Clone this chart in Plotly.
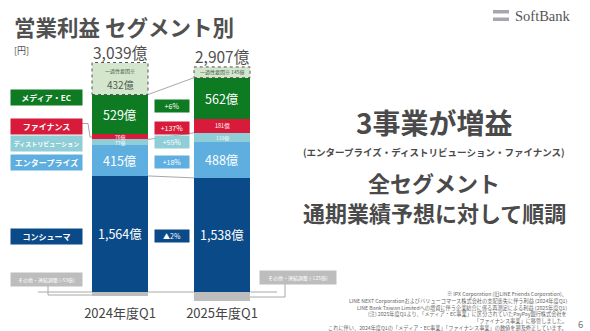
import plotly.graph_objects as go

# ---------------- data ----------------
categories = ["2024年度Q1", "2025年度Q1"]
consumer = [1564, 1538]
enterprise = [415, 488]
distribution = [77, 119]
finance = [76, 181]
media = [529, 562]
one_time = [432, 145]
other = [-53, -125]
totals = [3039, 2907]
segment_names = ["コンシューマ", "エンタープライズ", "ディストリビューション", "ファイナンス", "メディア・EC"]
growth = ["▲2%", "+18%", "+55%", "+137%", "+6%"]
other_labels = ["その他・連結調整 (-53億)", "その他・連結調整 (-125億)"]

# ---------------- style ----------------
FONT = "Noto Sans CJK JP"
C_CONS = "#0b4a88"
C_ENT = "#5eaee0"
C_DIST = "#8fcdd7"
C_FIN = "#d81b3b"
C_MED = "#0e7a22"
C_ONE = "#d4e6cd"
C_OTH = "#bdbdbd"
TXT = "#505050"
LINE = "#a8a8a8"

W, H = 590, 331
MB = 25
PH = H - MB
XC = [120, 222]
BW = 56
PXU = 0.0742            # pixels per 億
BASE_PX = 292
Y1 = BASE_PX / PXU
Y0 = -(PH - BASE_PX) / PXU


def py(p):
    return 1 - p / PH


fig = go.Figure()
stack = [(consumer, C_CONS), (enterprise, C_ENT), (distribution, C_DIST),
         (finance, C_FIN), (media, C_MED), (one_time, C_ONE)]
for vals, col in stack:
    fig.add_trace(go.Bar(x=XC, y=vals, width=BW, marker=dict(color=col, line=dict(width=0)),
                         hoverinfo="skip", showlegend=False))
fig.add_trace(go.Bar(x=XC, y=other, width=BW, marker=dict(color=C_OTH, line=dict(width=0)),
                     hoverinfo="skip", showlegend=False))

ann = []
shapes = []


def A(**kw):
    kw.setdefault("showarrow", False)
    kw.setdefault("yanchor", "middle")
    kw.setdefault("xanchor", "center")
    ann.append(kw)


# segment value labels
lab_sizes = [12.5, 12.5, 5, 5.5, 12.5]
for i in range(2):
    base = 0
    bounds = []
    for k, (vals, col) in enumerate(stack):
        v = vals[i]
        if k < 5:
            fs = lab_sizes[k]
            if k == 3 and i == 0:
                fs = 5
            A(x=XC[i], y=base + v / 2, xref="x", yref="y", text=f"{v:,}億",
              font=dict(family=FONT, size=fs, color="white"))
        bounds.append((base, base + v))
        base += v
    # one-time box dotted outline
    b0, b1 = bounds[5]
    shapes.append(dict(type="rect", xref="x", yref="y", x0=XC[i] - BW / 2, x1=XC[i] + BW / 2,
                       y0=b0, y1=b1, line=dict(color="#555555", width=1, dash="dot"),
                       fillcolor="rgba(0,0,0,0)", layer="above"))
    if i == 0:
        A(x=XC[i], y=b0 + (b1 - b0) * 0.72, xref="x", yref="y", text="一過性要因※",
          font=dict(family=FONT, size=5, color="#4d5d4d"))
        A(x=XC[i], y=b0 + (b1 - b0) * 0.32, xref="x", yref="y", text=f"{one_time[i]}億",
          font=dict(family=FONT, size=10, color="#4d5d4d"))
    else:
        A(x=XC[i], y=(b0 + b1) / 2, xref="x", yref="y", text=f"一過性要因※ {one_time[i]}億",
          borderpad=0, font=dict(family=FONT, size=5, color="#3d5a3d"))
    # totals
    A(x=XC[i], y=b1, xref="x", yref="y", text=f"{totals[i]:,}億", yanchor="bottom", yshift=-1.5,
      borderpad=0, font=dict(family=FONT, size=15.5, color=TXT))

# connector lines between bars
cum = lambda i, n: sum(s[0][i] for s in stack[:n])
for n in (1, 3, 5):
    shapes.append(dict(type="line", xref="x", yref="y", x0=XC[0] + BW / 2, x1=XC[1] - BW / 2,
                       y0=cum(0, n), y1=cum(1, n), line=dict(color=LINE, width=1)))
# baseline
shapes.append(dict(type="line", xref="x", yref="y", x0=38, x1=277, y0=0, y1=0,
                   line=dict(color=LINE, width=1), layer="below"))
# brackets for other
shapes.append(dict(type="path", xref="x", yref="paper",
                   path=f"M48,{py(286)} L48,{py(295)} L{XC[0] - BW / 2},{py(295)}",
                   line=dict(color=LINE, width=1)))
shapes.append(dict(type="path", xref="x", yref="paper",
                   path=f"M285,{py(284)} L285,{py(297)} L{XC[1] + BW / 2},{py(297)}",
                   line=dict(color=LINE, width=1)))
# finance legend connector
shapes.append(dict(type="path", xref="x", yref="paper",
                   path=f"M82,{py(123.5)} L88,{py(123.5)} L90,{py(137)} L{XC[0] - BW / 2},{py(137)}",
                   line=dict(color=LINE, width=1)))

# legend boxes (left)
leg = [  # (name index, color, y center px, font size)
    (4, C_MED, 98, 8),
    (3, C_FIN, 126, 8),
    (2, C_DIST, 143, 6),
    (1, C_ENT, 162, 8),
    (0, C_CONS, 236, 8),
]
for idx, col, yc, fs in leg:
    A(x=46.5, y=py(yc), xref="x", yref="paper", text=f"<b>{segment_names[idx]}</b>",
      width=71, height=15, bgcolor=col, borderpad=0,
      font=dict(family=FONT, size=fs, color="white"))
# growth boxes (middle)
grow = [(4, C_MED, 105.8), (3, C_FIN, 127.5), (2, C_DIST, 142.2), (1, C_ENT, 161.5), (0, C_CONS, 236.3)]
for idx, col, yc in grow:
    A(x=171.5, y=py(yc), xref="x", yref="paper", text=growth[idx],
      width=34, height=12, bgcolor=col, borderpad=0,
      font=dict(family=FONT, size=7, color="white"))
# other boxes
A(x=46.5, y=py(279), xref="x", yref="paper", text=other_labels[0],
  width=71, height=13, bgcolor=C_OTH, borderpad=0,
  font=dict(family=FONT, size=5, color="white"))
A(x=298, y=py(277.3), xref="x", yref="paper", text=other_labels[1],
  width=76, height=13, bgcolor=C_OTH, borderpad=0,
  font=dict(family=FONT, size=5, color="white"))

# title etc.
A(x=12, y=py(26.5), xref="x", yref="paper", xanchor="left", text="<b>営業利益 セグメント別</b>",
  font=dict(family=FONT, size=21.5, color=TXT))
A(x=12, y=py(51), xref="x", yref="paper", xanchor="left", text="[円]",
  font=dict(family=FONT, size=9, color=TXT))
A(x=513, y=py(15.5), xref="x", yref="paper", xanchor="left", text="SoftBank",
  font=dict(family="Liberation Serif", size=14.5, color="#555555"))
shapes.append(dict(type="rect", xref="x", yref="paper", x0=493, x1=509, y0=py(10), y1=py(13.5),
                   fillcolor="#a4a8ac", line=dict(width=0)))
shapes.append(dict(type="rect", xref="x", yref="paper", x0=493, x1=509, y0=py(17.5), y1=py(21),
                   fillcolor="#a4a8ac", line=dict(width=0)))

# right side messages
A(x=434, y=py(122), xref="x", yref="paper", text="<b>3事業が増益</b>",
  font=dict(family=FONT, size=28, color="#4a4a4a"))
A(x=434, y=py(151.5), xref="x", yref="paper",
  text="<b>(エンタープライズ・ディストリビューション・ファイナンス)</b>",
  font=dict(family=FONT, size=9.5, color="#4a4a4a"))
A(x=434, y=py(182), xref="x", yref="paper", text="<b>全セグメント</b>",
  font=dict(family=FONT, size=22, color="#4a4a4a"))
A(x=434, y=py(212), xref="x", yref="paper", text="<b>通期業績予想に対して順調</b>",
  font=dict(family=FONT, size=22, color="#4a4a4a"))

# footnotes
notes = [
    ("※ IPX Corporation (旧LINE Friends Corporation)、", 294),
    ("LINE NEXT Corporationおよびバリューコマース株式会社の支配喪失に伴う利益 (2024年度Q1)", 300.8),
    ("LINE Bank Taiwan Limitedへの増資に伴う企業結合に係る再測定による利益 (2025年度Q1)", 307.5),
    ("(注) 2025年度Q1より、「メディア・EC事業」に区分されていたPayPay銀行株式会社を", 314.5),
    ("「ファイナンス事業」に移管しました。", 321),
    ("これに伴い、2024年度Q1の「メディア・EC事業」「ファイナンス事業」の数値を遡及修正しています。", 327.5),
]
for t, yy in notes:
    A(x=568, y=py(yy), xref="x", yref="paper", xanchor="right", text=t, borderpad=0,
      font=dict(family=FONT, size=5.2, color="#666666"))
A(x=580, y=py(323.5), xref="x", yref="paper", text="6", borderpad=0,
  font=dict(family=FONT, size=9.5, color="#777777"))

fig.update_layout(
    width=W, height=H, margin=dict(l=0, r=0, t=0, b=MB, autoexpand=False),
    paper_bgcolor="white", plot_bgcolor="white",
    barmode="relative", bargap=0,
    annotations=ann, shapes=shapes,
    xaxis=dict(range=[0, W], tickvals=XC, ticktext=categories, showgrid=False, zeroline=False,
               showline=False, ticks="", tickfont=dict(family=FONT, size=13, color="#444444"),
               ticklabelstandoff=-2, fixedrange=True, automargin=False),
    yaxis=dict(range=[Y0, Y1], visible=False, fixedrange=True),
    showlegend=False,
)
fig.write_html("out.html", config={"displayModeBar": False})
